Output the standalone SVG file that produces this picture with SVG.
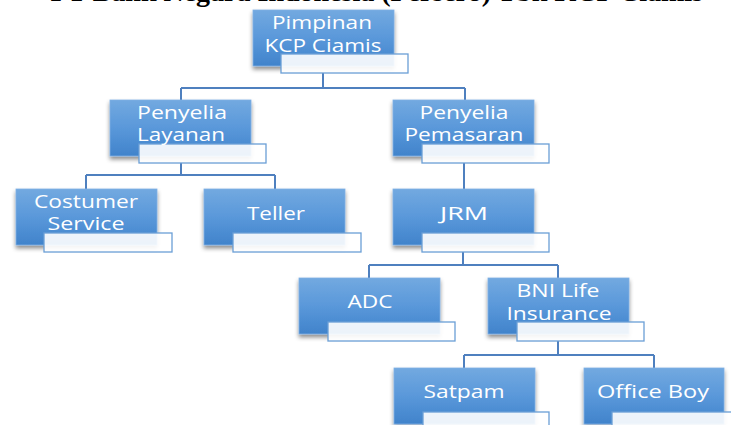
<svg xmlns="http://www.w3.org/2000/svg" width="731" height="425" viewBox="0 0 731 425">
<defs>
<linearGradient id="bg" x1="0" y1="0" x2="0" y2="1">
<stop offset="0" stop-color="#72a9e0"/>
<stop offset="0.5" stop-color="#5a98da"/>
<stop offset="1" stop-color="#4083cb"/>
</linearGradient>
<filter id="sh" x="-20%" y="-20%" width="140%" height="150%">
<feDropShadow dx="0" dy="3" stdDeviation="2.2" flood-color="#000" flood-opacity="0.45"/>
</filter>
</defs>
<style>
.box{fill:url(#bg);stroke:#7fb0e3;stroke-width:0.8;filter:url(#sh)}
.lab{fill:#ffffff;fill-opacity:0.9;stroke:#6a9fd6;stroke-width:1.3}
.t{font-family:"Open Sans","DejaVu Sans",sans-serif;font-size:18px;fill:#ffffff;text-anchor:middle}
.con{fill:none;stroke:#4f80bf;stroke-width:2}
.title{font-family:"Liberation Serif",serif;font-weight:bold;font-size:28px;fill:#000;text-anchor:end}
</style>
<rect width="731" height="425" fill="#ffffff"/>
<text class="title" x="703" y="0.5">PT Bank Negara Indonesia (Persero) Tbk KCP Ciamis</text>
<g id="connectors">
<path class="con" d="M323,73 V88 M181,88 H465 M181,88 V100 M465,88 V100"/>
<path class="con" d="M181,163 V175 M86,175 H275 M86,175 V189 M275,175 V189"/>
<path class="con" d="M464,163 V189"/>
<path class="con" d="M463,252 V265 M369,265 H558 M369,265 V278 M558,265 V278"/>
<path class="con" d="M558,341 V355 M464,355 H654 M464,355 V368 M654,355 V368"/>
</g>
<g id="pimpinan">
<rect class="box" x="253" y="10" width="141" height="56"/>
<rect class="lab" x="281" y="54" width="127" height="19"/>
<text class="t" x="322" y="29" textLength="100" lengthAdjust="spacingAndGlyphs">Pimpinan</text>
<text class="t" x="323" y="52" textLength="117" lengthAdjust="spacingAndGlyphs">KCP Ciamis</text>
</g>
<g id="penyelia-layanan">
<rect class="box" x="110" y="100" width="141" height="56"/>
<rect class="lab" x="139" y="144" width="127" height="19"/>
<text class="t" x="182" y="119" textLength="90" lengthAdjust="spacingAndGlyphs">Penyelia</text>
<text class="t" x="181" y="141" textLength="88" lengthAdjust="spacingAndGlyphs">Layanan</text>
</g>
<g id="penyelia-pemasaran">
<rect class="box" x="393" y="100" width="141" height="56"/>
<rect class="lab" x="422" y="144" width="127" height="19"/>
<text class="t" x="464" y="119" textLength="89" lengthAdjust="spacingAndGlyphs">Penyelia</text>
<text class="t" x="464" y="141" textLength="119" lengthAdjust="spacingAndGlyphs">Pemasaran</text>
</g>
<g id="costumer-service">
<rect class="box" x="16" y="189" width="141" height="56"/>
<rect class="lab" x="44" y="233" width="128" height="19"/>
<text class="t" x="86" y="208" textLength="104" lengthAdjust="spacingAndGlyphs">Costumer</text>
<text class="t" x="86" y="230" textLength="77" lengthAdjust="spacingAndGlyphs">Service</text>
</g>
<g id="teller">
<rect class="box" x="204" y="189" width="141" height="56"/>
<rect class="lab" x="233" y="233" width="128" height="19"/>
<text class="t" x="276" y="220" textLength="58" lengthAdjust="spacingAndGlyphs">Teller</text>
</g>
<g id="jrm">
<rect class="box" x="393" y="189" width="141" height="56"/>
<rect class="lab" x="422" y="233" width="127" height="19"/>
<text class="t" x="464" y="220" textLength="48" lengthAdjust="spacingAndGlyphs">JRM</text>
</g>
<g id="adc">
<rect class="box" x="299" y="278" width="141" height="56"/>
<rect class="lab" x="328" y="322" width="127" height="19"/>
<text class="t" x="370" y="308" textLength="45" lengthAdjust="spacingAndGlyphs">ADC</text>
</g>
<g id="bni-life">
<rect class="box" x="488" y="278" width="141" height="56"/>
<rect class="lab" x="517" y="322" width="127" height="19"/>
<text class="t" x="558" y="297" textLength="83" lengthAdjust="spacingAndGlyphs">BNI Life</text>
<text class="t" x="559" y="320" textLength="105" lengthAdjust="spacingAndGlyphs">Insurance</text>
</g>
<g id="satpam">
<rect class="box" x="394" y="368" width="141" height="56"/>
<rect class="lab" x="423" y="412" width="126" height="19"/>
<text class="t" x="464" y="398" textLength="81" lengthAdjust="spacingAndGlyphs">Satpam</text>
</g>
<g id="office-boy">
<rect class="box" x="584" y="368" width="140" height="56"/>
<rect class="lab" x="612" y="412" width="127" height="19"/>
<text class="t" x="653" y="398" textLength="112" lengthAdjust="spacingAndGlyphs">Office Boy</text>
</g>
</svg>
